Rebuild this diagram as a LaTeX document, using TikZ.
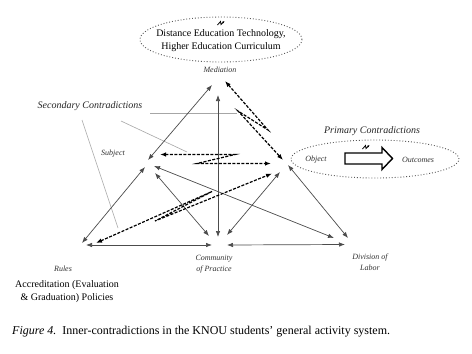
\documentclass[tikz,border=0pt]{standalone}
\usepackage{fontspec}
\setmainfont{Liberation Serif}
\usetikzlibrary{arrows.meta,shapes.geometric}
\begin{document}
\begin{tikzpicture}[x=1pt,y=-1pt,
  lbl/.style={font=\fontsize{8}{11}\selectfont\itshape, inner sep=0pt, align=center, text=black!80},
  big/.style={font=\fontsize{10}{13.5}\selectfont, inner sep=0pt, align=center},
  head/.style={font=\fontsize{10}{12}\selectfont\itshape, inner sep=0pt, text=black!85},
  sol/.style={draw=black!70, line width=0.7pt, {Latex[length=6pt,width=4.5pt]}-{Latex[length=6pt,width=4.5pt]}},
  dsh/.style={draw=black, line width=1.2pt, dash pattern=on 3pt off 1.5pt, {Latex[length=6pt,width=4.5pt]}-{Latex[length=6pt,width=4.5pt]}},
  call/.style={draw=black!35, line width=0.6pt},
  dotell/.style={ellipse, draw=black!65, dotted, line width=0.9pt, inner sep=0pt},
  bolt/.pic={\draw[line width=0.8pt, -{Latex[length=2.2pt,width=2.2pt]}] (-3.5,2) -- (-0.5,-1.5) -- (0,1.5) -- (3.5,-2);}
]
\useasboundingbox[fill=white] (0,0) rectangle (472,354);

% ---------- endpoint coordinates ----------
% Subject - Mediation
\coordinate (smS) at (148,160); \coordinate (smM) at (212,85);
% Community - Mediation (vertical)
\coordinate (cmC) at (218,237); \coordinate (cmM) at (218,95);
% Mediation - Object (zigzag)
\coordinate (moM) at (225,81); \coordinate (moA) at (268,130); \coordinate (moB) at (238,111); \coordinate (moO) at (283,160);
% Rules - Subject
\coordinate (rsR) at (82,243); \coordinate (rsS) at (145,167);
% Subject - Object (zigzag)
\coordinate (soS) at (160,154.5); \coordinate (soA) at (235,154.5); \coordinate (soB) at (197,163.5); \coordinate (soO) at (271,163.5);
% Subject - Community
\coordinate (scS) at (155,173); \coordinate (scC) at (209,236);
% Subject - Division
\coordinate (sdS) at (154,166); \coordinate (sdD) at (334,238);
% Rules - Object (zigzag)
\coordinate (roR) at (96,243); \coordinate (roA) at (212,191.5); \coordinate (roB) at (155,221); \coordinate (roO) at (272,173.5);
% Rules - Community
\coordinate (rcR) at (86,245); \coordinate (rcC) at (212,245);
% Community - Division
\coordinate (cdC) at (227,245); \coordinate (cdD) at (345,244.5);
% Community - Object
\coordinate (coC) at (227,235); \coordinate (coO) at (280,172);
% Object - Division
\coordinate (odO) at (288,165); \coordinate (odD) at (348,238);
% callout line ends
\coordinate (c1a) at (150,113.5); \coordinate (c1b) at (237,113.5);
\coordinate (c2a) at (121,121); \coordinate (c2b) at (187,152);
\coordinate (c3a) at (82,120); \coordinate (c3b) at (118,228);

% ---------- callout lines ----------
\draw[call] (c1a) -- (c1b);
\draw[call] (c2a) -- (c2b);
\draw[call] (c3a) -- (c3b);

% ---------- solid connectors ----------
\draw[sol] (smS) -- (smM);
\draw[sol] (cmC) -- (cmM);
\draw[sol] (rsR) -- (rsS);
\draw[sol] (scS) -- (scC);
\draw[sol] (sdS) -- (sdD);
\draw[sol] (rcR) -- (rcC);
\draw[sol] (cdC) -- (cdD);
\draw[sol] (coC) -- (coO);
\draw[sol] (odO) -- (odD);

% ---------- dashed contradiction connectors ----------
\draw[dsh] (moM) -- (moA) -- (moB) -- (moO);
\draw[dsh] (soS) -- (soA) -- (soB) -- (soO);
\draw[dsh] (roR) -- (roA) -- (roB) -- (roO);

% ---------- ellipses ----------
\node[dotell, minimum width=162, minimum height=45] (medell) at (221,39.5) {};
\node[big] (medtxt) at (221,40.5) {Distance Education Technology,\\Higher Education Curriculum};
\pic at (221,23) {bolt};

\node[dotell, minimum width=168, minimum height=38] (objell) at (375,159) {};
\node[lbl] (obj) at (316,160) {Object};
\node[lbl] (out) at (418,160) {Outcomes};
\draw[line width=1.4pt, line join=miter] (345,153) -- (382,153) -- (382,147.5) -- (392.5,158.5) -- (382,169.5) -- (382,164) -- (345,164) -- cycle;
\pic at (366,147) {bolt};

% ---------- labels ----------
\node[lbl] (med) at (220,69.5) {Mediation};
\node[lbl] (subj) at (113,153.5) {Subject};
\node[lbl] (rules) at (63,268.5) {Rules};
\node[lbl] (comm) at (214,264) {Community\\of Practice};
\node[lbl] (div) at (370,262) {Division of\\Labor};
\node[head] (sec) at (90,106.5) {Secondary Contradictions};
\node[head] (prim) at (372,131.5) {Primary Contradictions};
\node[big] (acc) at (67,291.5) {Accreditation (Evaluation\\\& Graduation) Policies};

% ---------- caption ----------
\node[font=\fontsize{12}{14}\selectfont, inner sep=0pt, anchor=west] (cap) at (12,332)
  {\textit{Figure 4.}\ \ Inner-contradictions in the KNOU students’ general activity system.};
\end{tikzpicture}
\end{document}
